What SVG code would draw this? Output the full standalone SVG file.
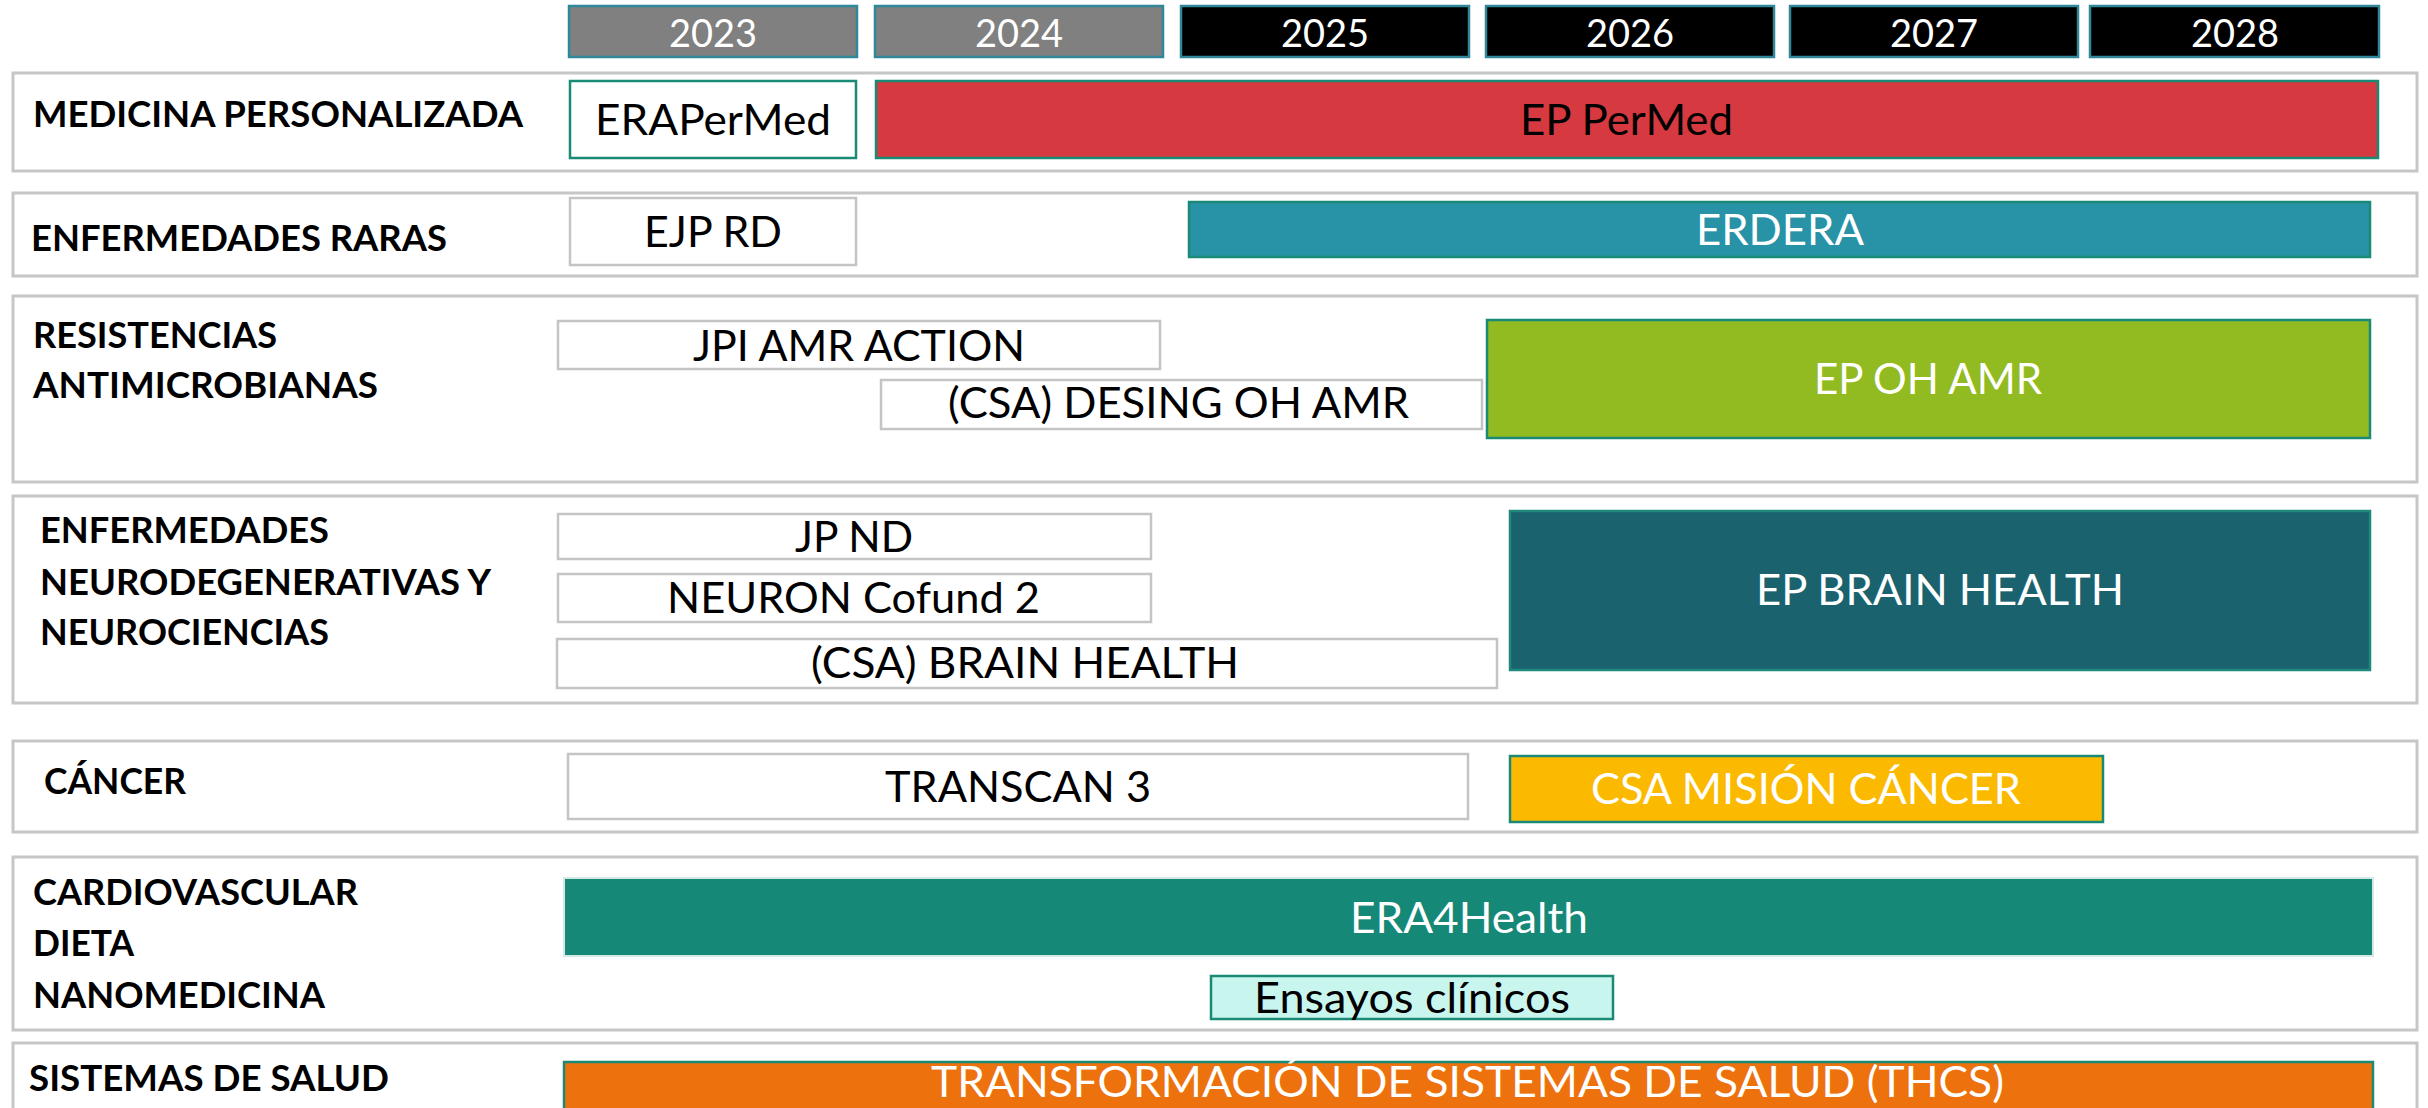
<svg xmlns="http://www.w3.org/2000/svg" width="2428" height="1108" viewBox="0 0 2428 1108">
<style>
.row{fill:#fff;stroke:#c6c6c6;stroke-width:3}
.yr{stroke:#2f8799;stroke-width:2.5}
.yr-past{fill:#808080}
.yr-fut{fill:#000}
.ytxt{font-family:Lato,"Liberation Sans",sans-serif;font-size:38px;fill:#fff;text-anchor:middle}
.wbox{fill:#fff;stroke:#c4c4c4;stroke-width:2.5}
.tbox{stroke:#1a8a76;stroke-width:2.5}
.lbl{font-family:Lato,"Liberation Sans",sans-serif;font-weight:bold;font-size:36px;fill:#000}
.btxt{font-family:Lato,"Liberation Sans",sans-serif;font-size:43px}
.blk{fill:#000}
.wht{fill:#fff}
</style>
<rect width="2428" height="1108" fill="#fff"/>

<g id="years">
<rect class="yr yr-past" x="569" y="6" width="288" height="51"/><text class="ytxt" x="713" y="47">2023</text>
<rect class="yr yr-past" x="875" y="6" width="288" height="51"/><text class="ytxt" x="1019" y="47">2024</text>
<rect class="yr yr-fut" x="1181" y="6" width="288" height="51"/><text class="ytxt" x="1325" y="47">2025</text>
<rect class="yr yr-fut" x="1486" y="6" width="288" height="51"/><text class="ytxt" x="1630" y="47">2026</text>
<rect class="yr yr-fut" x="1790" y="6" width="288" height="51"/><text class="ytxt" x="1934" y="47">2027</text>
<rect class="yr yr-fut" x="2090" y="6" width="289" height="51"/><text class="ytxt" x="2235" y="47">2028</text>
</g>

<g id="row-medicina">
<rect class="row" x="13" y="73" width="2404" height="98"/>
<text class="lbl" x="33" y="127" textLength="490" lengthAdjust="spacingAndGlyphs">MEDICINA PERSONALIZADA</text>
</g>
<g id="erapermed">
<rect class="tbox" fill="#fff" x="570" y="81" width="286" height="77"/>
<text class="btxt blk" x="595" y="135" textLength="236" lengthAdjust="spacingAndGlyphs">ERAPerMed</text>
</g>
<g id="ep-permed">
<rect class="tbox" fill="#d6393f" x="876" y="81" width="1502" height="77"/>
<text class="btxt blk" x="1520" y="135" textLength="213" lengthAdjust="spacingAndGlyphs">EP PerMed</text>
</g>

<g id="row-raras">
<rect class="row" x="13" y="193" width="2404" height="83"/>
<text class="lbl" x="31" y="251" textLength="416" lengthAdjust="spacingAndGlyphs">ENFERMEDADES RARAS</text>
</g>
<g id="ejp-rd">
<rect class="wbox" x="570" y="198" width="286" height="67"/>
<text class="btxt blk" x="644" y="247" textLength="138" lengthAdjust="spacingAndGlyphs">EJP RD</text>
</g>
<g id="erdera">
<rect class="tbox" fill="#2892a6" x="1189" y="202" width="1181" height="55"/>
<text class="btxt wht" x="1696" y="245" textLength="168" lengthAdjust="spacingAndGlyphs">ERDERA</text>
</g>

<g id="row-amr">
<rect class="row" x="13" y="296" width="2404" height="186"/>
<text class="lbl" x="33" y="348" textLength="244" lengthAdjust="spacingAndGlyphs">RESISTENCIAS</text>
<text class="lbl" x="33" y="398" textLength="345" lengthAdjust="spacingAndGlyphs">ANTIMICROBIANAS</text>
</g>
<g id="jpi-amr">
<rect class="wbox" x="558" y="321" width="602" height="48"/>
<text class="btxt blk" x="693" y="361" textLength="332" lengthAdjust="spacingAndGlyphs">JPI AMR ACTION</text>
</g>
<g id="csa-desing">
<rect class="wbox" x="881" y="380" width="601" height="49"/>
<text class="btxt blk" x="948" y="418" textLength="461" lengthAdjust="spacingAndGlyphs">(CSA) DESING OH AMR</text>
</g>
<g id="ep-oh-amr">
<rect class="tbox" fill="#92bb22" x="1487" y="320" width="883" height="118"/>
<text class="btxt wht" x="1814" y="394" textLength="228" lengthAdjust="spacingAndGlyphs">EP OH AMR</text>
</g>

<g id="row-neuro">
<rect class="row" x="13" y="496" width="2404" height="207"/>
<text class="lbl" x="40" y="543" textLength="289" lengthAdjust="spacingAndGlyphs">ENFERMEDADES</text>
<text class="lbl" x="40" y="595" textLength="451" lengthAdjust="spacingAndGlyphs">NEURODEGENERATIVAS Y</text>
<text class="lbl" x="40" y="645" textLength="289" lengthAdjust="spacingAndGlyphs">NEUROCIENCIAS</text>
</g>
<g id="jp-nd">
<rect class="wbox" x="558" y="514" width="593" height="45"/>
<text class="btxt blk" x="795" y="552" textLength="118" lengthAdjust="spacingAndGlyphs">JP ND</text>
</g>
<g id="neuron">
<rect class="wbox" x="558" y="574" width="593" height="48"/>
<text class="btxt blk" x="667" y="613" textLength="373" lengthAdjust="spacingAndGlyphs">NEURON Cofund 2</text>
</g>
<g id="csa-brain">
<rect class="wbox" x="557" y="639" width="940" height="49"/>
<text class="btxt blk" x="811" y="678" textLength="428" lengthAdjust="spacingAndGlyphs">(CSA) BRAIN HEALTH</text>
</g>
<g id="ep-brain">
<rect fill="#1b626f" stroke="#1f8a7c" stroke-width="2.5" x="1510" y="511" width="860" height="159"/>
<text class="btxt wht" x="1756" y="605" textLength="368" lengthAdjust="spacingAndGlyphs">EP BRAIN HEALTH</text>
</g>

<g id="row-cancer">
<rect class="row" x="13" y="741" width="2404" height="91"/>
<text class="lbl" x="44" y="794" textLength="142" lengthAdjust="spacingAndGlyphs">CÁNCER</text>
</g>
<g id="transcan">
<rect class="wbox" x="568" y="754" width="900" height="65"/>
<text class="btxt blk" x="885" y="802" textLength="266" lengthAdjust="spacingAndGlyphs">TRANSCAN 3</text>
</g>
<g id="csa-cancer">
<rect class="tbox" fill="#fbba00" x="1510" y="756" width="593" height="66"/>
<text class="btxt wht" x="1591" y="804" textLength="430" lengthAdjust="spacingAndGlyphs">CSA MISIÓN CÁNCER</text>
</g>

<g id="row-cardio">
<rect class="row" x="13" y="857" width="2404" height="173"/>
<text class="lbl" x="33" y="905" textLength="325" lengthAdjust="spacingAndGlyphs">CARDIOVASCULAR</text>
<text class="lbl" x="33" y="956" textLength="101" lengthAdjust="spacingAndGlyphs">DIETA</text>
<text class="lbl" x="33" y="1008" textLength="292" lengthAdjust="spacingAndGlyphs">NANOMEDICINA</text>
</g>
<g id="era4health">
<rect fill="#168878" stroke="#d4e8e4" stroke-width="2" x="564" y="878" width="1809" height="78"/>
<text class="btxt wht" x="1350" y="933" textLength="238" lengthAdjust="spacingAndGlyphs">ERA4Health</text>
</g>
<g id="ensayos">
<rect class="tbox" fill="#c9f5ef" x="1211" y="976" width="402" height="43"/>
<text class="btxt blk" x="1254" y="1013" textLength="316" lengthAdjust="spacingAndGlyphs">Ensayos clínicos</text>
</g>

<g id="row-salud">
<rect class="row" x="13" y="1043" width="2404" height="90"/>
<text class="lbl" x="29" y="1091" textLength="360" lengthAdjust="spacingAndGlyphs">SISTEMAS DE SALUD</text>
</g>
<g id="thcs">
<rect class="tbox" fill="#ed720e" x="564" y="1062" width="1809" height="80"/>
<text class="btxt wht" x="931" y="1097" font-size="41" textLength="1073" lengthAdjust="spacingAndGlyphs">TRANSFORMACIÓN DE SISTEMAS DE SALUD (THCS)</text>
</g>

<g id="connectors"/>
</svg>
